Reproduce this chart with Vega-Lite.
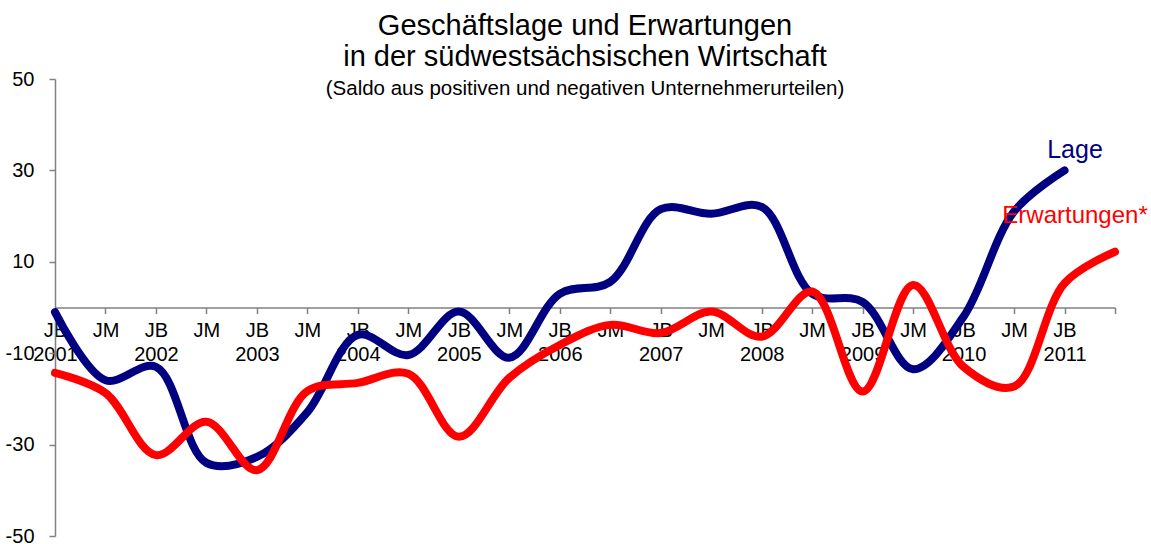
{
  "$schema": "https://vega.github.io/schema/vega-lite/v6.json",
  "width": 1060,
  "height": 457,
  "autosize": {"type": "none"},
  "padding": {"left": 55, "top": 79, "right": 36, "bottom": 8},
  "background": "white",
  "config": {"view": {"stroke": null}, "font": "Liberation Sans"},
  "title": {
    "text": ["Geschäftslage und Erwartungen", "in der südwestsächsischen Wirtschaft"],
    "subtitle": "(Saldo aus positiven und negativen Unternehmerurteilen)",
    "anchor": "middle",
    "frame": "group",
    "font": "Liberation Sans",
    "fontSize": 29,
    "fontWeight": "normal",
    "lineHeight": 31,
    "color": "black",
    "subtitleFont": "Liberation Sans",
    "subtitleFontSize": 20.5,
    "subtitleColor": "black",
    "subtitlePadding": 7,
    "offset": -30
  },
  "data": {
    "values": [
      {"Periode": "JB 2001", "Serie": "Lage", "Saldo": -1},
      {"Periode": "JM 2001", "Serie": "Lage", "Saldo": -15.9},
      {"Periode": "JB 2002", "Serie": "Lage", "Saldo": -13},
      {"Periode": "JM 2002", "Serie": "Lage", "Saldo": -34},
      {"Periode": "JB 2003", "Serie": "Lage", "Saldo": -32.7},
      {"Periode": "JM 2003", "Serie": "Lage", "Saldo": -22.9},
      {"Periode": "JB 2004", "Serie": "Lage", "Saldo": -6},
      {"Periode": "JM 2004", "Serie": "Lage", "Saldo": -10.4},
      {"Periode": "JB 2005", "Serie": "Lage", "Saldo": -0.9},
      {"Periode": "JM 2005", "Serie": "Lage", "Saldo": -11},
      {"Periode": "JB 2006", "Serie": "Lage", "Saldo": 3},
      {"Periode": "JM 2006", "Serie": "Lage", "Saldo": 5.6},
      {"Periode": "JB 2007", "Serie": "Lage", "Saldo": 21.5},
      {"Periode": "JM 2007", "Serie": "Lage", "Saldo": 20.5},
      {"Periode": "JB 2008", "Serie": "Lage", "Saldo": 22},
      {"Periode": "JM 2008", "Serie": "Lage", "Saldo": 3},
      {"Periode": "JB 2009", "Serie": "Lage", "Saldo": 1.2},
      {"Periode": "JM 2009", "Serie": "Lage", "Saldo": -13.5},
      {"Periode": "JB 2010", "Serie": "Lage", "Saldo": -2},
      {"Periode": "JM 2010", "Serie": "Lage", "Saldo": 21},
      {"Periode": "JB 2011", "Serie": "Lage", "Saldo": 30},
      {"Periode": "JB 2001", "Serie": "Erwartungen", "Saldo": -14.3},
      {"Periode": "JM 2001", "Serie": "Erwartungen", "Saldo": -18.7},
      {"Periode": "JB 2002", "Serie": "Erwartungen", "Saldo": -32.3},
      {"Periode": "JM 2002", "Serie": "Erwartungen", "Saldo": -25},
      {"Periode": "JB 2003", "Serie": "Erwartungen", "Saldo": -35.6},
      {"Periode": "JM 2003", "Serie": "Erwartungen", "Saldo": -18.3},
      {"Periode": "JB 2004", "Serie": "Erwartungen", "Saldo": -16.5},
      {"Periode": "JM 2004", "Serie": "Erwartungen", "Saldo": -14.5},
      {"Periode": "JB 2005", "Serie": "Erwartungen", "Saldo": -28.3},
      {"Periode": "JM 2005", "Serie": "Erwartungen", "Saldo": -15.4},
      {"Periode": "JB 2006", "Serie": "Erwartungen", "Saldo": -8.2},
      {"Periode": "JM 2006", "Serie": "Erwartungen", "Saldo": -3.8},
      {"Periode": "JB 2007", "Serie": "Erwartungen", "Saldo": -5.6},
      {"Periode": "JM 2007", "Serie": "Erwartungen", "Saldo": -0.9},
      {"Periode": "JB 2008", "Serie": "Erwartungen", "Saldo": -6.4},
      {"Periode": "JM 2008", "Serie": "Erwartungen", "Saldo": 3.5},
      {"Periode": "JB 2009", "Serie": "Erwartungen", "Saldo": -18.4},
      {"Periode": "JM 2009", "Serie": "Erwartungen", "Saldo": 4.9},
      {"Periode": "JB 2010", "Serie": "Erwartungen", "Saldo": -13},
      {"Periode": "JM 2010", "Serie": "Erwartungen", "Saldo": -17.3},
      {"Periode": "JB 2011", "Serie": "Erwartungen", "Saldo": 5.3},
      {"Periode": "JM 2011", "Serie": "Erwartungen", "Saldo": 12.2}
    ]
  },
  "encoding": {
    "x": {
      "field": "Periode",
      "type": "ordinal",
      "scale": {
        "type": "point",
        "padding": 0,
        "domain": ["JB 2001", "JM 2001", "JB 2002", "JM 2002", "JB 2003", "JM 2003", "JB 2004", "JM 2004", "JB 2005", "JM 2005", "JB 2006", "JM 2006", "JB 2007", "JM 2007", "JB 2008", "JM 2008", "JB 2009", "JM 2009", "JB 2010", "JM 2010", "JB 2011", "JM 2011"]
      },
      "axis": {
        "title": null,
        "orient": "bottom",
        "offset": -228.5,
        "domainColor": "#808080",
        "domainWidth": 1.5,
        "tickColor": "#808080",
        "tickWidth": 1.5,
        "tickSize": 6,
        "labelPadding": 7,
        "labelAngle": 0,
        "labelAlign": "center",
        "labelBaseline": "top",
        "labelFont": "Liberation Sans",
        "labelFontSize": 20,
        "labelColor": "black",
        "labelLineHeight": 24,
        "labelOverlap": false,
        "labelExpr": "datum.value == 'JM 2011' ? '' : (slice(datum.value, 0, 2) == 'JB' ? split(datum.value, ' ') : 'JM')",
        "grid": false,
        "zindex": 0
      }
    },
    "y": {
      "field": "Saldo",
      "type": "quantitative",
      "scale": {"domain": [-50, 50], "nice": false, "zero": false},
      "axis": {
        "title": null,
        "values": [-50, -30, -10, 10, 30, 50],
        "labelExpr": "datum.value + ''",
        "domainColor": "#808080",
        "domainWidth": 1.5,
        "tickColor": "#808080",
        "tickWidth": 1.5,
        "tickSize": 6,
        "labelPadding": 15,
        "labelFont": "Liberation Sans",
        "labelFontSize": 20,
        "labelColor": "black",
        "grid": false,
        "zindex": 0
      }
    },
    "color": {
      "field": "Serie",
      "type": "nominal",
      "scale": {"domain": ["Lage", "Erwartungen"], "range": ["#000080", "#FF0000"]},
      "legend": null
    }
  },
  "layer": [
    {
      "transform": [{"filter": "datum.Serie == 'Lage'"}],
      "mark": {"type": "line", "interpolate": "catmull-rom", "strokeWidth": 8, "strokeCap": "round", "strokeJoin": "round"}
    },
    {
      "transform": [{"filter": "datum.Serie == 'Erwartungen'"}],
      "mark": {"type": "line", "interpolate": "catmull-rom", "strokeWidth": 8, "strokeCap": "round", "strokeJoin": "round"}
    },
    {
      "transform": [{"filter": "datum.Serie == 'Lage' && datum.Periode == 'JB 2011'"}],
      "mark": {"type": "text", "font": "Liberation Sans", "fontSize": 25, "align": "center", "baseline": "alphabetic", "dx": 10.5, "dy": -12.4},
      "encoding": {"text": {"value": "Lage"}}
    },
    {
      "transform": [{"filter": "datum.Serie == 'Erwartungen' && datum.Periode == 'JB 2011'"}],
      "mark": {"type": "text", "font": "Liberation Sans", "fontSize": 24, "align": "center", "baseline": "alphabetic", "dx": 10.5, "dy": -60.3},
      "encoding": {"text": {"value": "Erwartungen*"}}
    }
  ]
}
